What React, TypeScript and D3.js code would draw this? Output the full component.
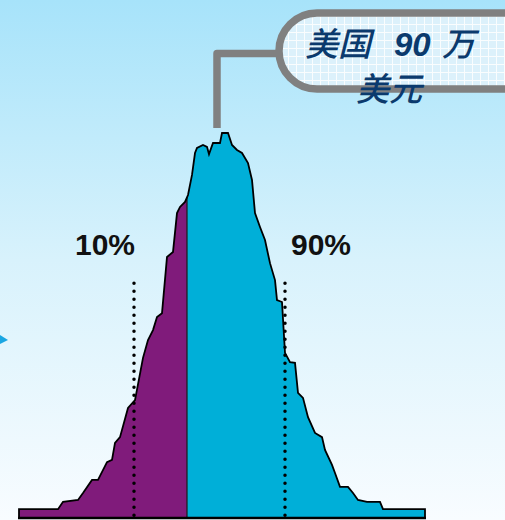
import React from "react";
import * as d3 from "d3";

// Distribution outline (x in 万美元, density in relative units)
const values = [40.5, 50.25, 51.5, 55.25, 56.5, 58.75, 60.25, 62.5, 63.75, 64.5, 65.75, 67.75, 69.5, 71.5, 72.75, 74, 75, 76.25, 77.5, 79, 80, 80.75, 82, 82.75, 83.75, 84.5, 85, 86.5, 87.5, 88, 89, 90.75, 91.25, 92.75, 93.75, 95, 96.25, 97.75, 98.75, 99.5, 100.75, 102, 103.25, 104.5, 105, 106.25, 107, 108.25, 109.5, 110.25, 111.5, 112.75, 114.5, 116.25, 117, 118.75, 119.5, 120.75, 122.75, 124, 125.25, 127.5, 130.75, 131.5, 142];
const density = [2.3, 2.3, 4.2, 4.7, 6.5, 9.9, 9.9, 14.5, 15.1, 19.5, 21.0, 28.6, 30.6, 41.6, 46.2, 48.8, 52.2, 53.2, 67.8, 69.1, 79.2, 80.8, 82.1, 83.9, 89.1, 94.8, 96.1, 96.9, 96.4, 94.5, 97.4, 97.4, 100, 100, 96.9, 95.6, 94.8, 92.2, 87.8, 79.2, 75.6, 72.2, 66.2, 61.8, 56.6, 56.1, 42.9, 40.5, 40.3, 32.5, 31.2, 26.2, 22.1, 21.0, 17.7, 13.8, 11.7, 8.1, 8.1, 6.5, 4.7, 4.2, 4.2, 2.3, 2.3];

const percentileLabels = ["10%", "90%"];
const percentileValues = [69.25, 107];
const splitValue = 82.5;
const calloutValue = 90;
const calloutLines = ["美国", "90", "万", "美元"];

const W = 505;
const H = 520;

export default function App() {
  const x = d3.scaleLinear().domain([90, 140]).range([217, 417]);
  const y = d3.scaleLinear().domain([0, 100]).range([518, 133]);
  const pts: [number, number][] = values.map((v, i) => [v, density[i]]);
  const first = pts[0];
  const last = pts[pts.length - 1];
  const areaGen = d3
    .area<[number, number]>()
    .x((d) => x(d[0]))
    .y0(y(0))
    .y1((d) => y(d[1]));
  const lineGen = d3
    .line<[number, number]>()
    .x((d) => x(d[0]))
    .y((d) => y(d[1]));
  const outline: [number, number][] = [[first[0], 0], ...pts, [last[0], 0]];
  const areaPath = areaGen(pts) || "";
  const linePath = lineGen(outline) || "";

  const idx = values.findIndex((v) => v >= splitValue);
  const t = (splitValue - values[idx - 1]) / (values[idx] - values[idx - 1]);
  const splitDensity = density[idx - 1] + t * (density[idx] - density[idx - 1]);

  const cx = x(calloutValue);
  const dotTop = y(61);

  return (
    <svg
      width={W}
      height={H}
      style={{ position: "fixed", left: 0, top: 0, display: "block" }}
    >
      <defs>
        <linearGradient id="bg" x1="0" y1="0" x2="0" y2="1">
          <stop offset="0" stopColor="#a7e3fa" />
          <stop offset="0.5" stopColor="#d8f2fc" />
          <stop offset="1" stopColor="#f8fcff" />
        </linearGradient>
        <pattern id="grid" width="8" height="8" patternUnits="userSpaceOnUse">
          <rect width="8" height="8" fill="#dcf1fb" />
          <path d="M0 0.5H8M0.5 0V8" stroke="#ffffff" strokeWidth="1" opacity="0.85" />
        </pattern>
        <clipPath id="leftClip">
          <rect x={0} y={0} width={x(splitValue)} height={H} />
        </clipPath>
      </defs>
      <rect width={W} height={H} fill="url(#bg)" />

      <path d="M0 335 L8 340 L0 344 Z" fill="#1aa6e2" />

      <path d={areaPath} fill="#00afd8" />
      <path d={areaPath} fill="#801b7b" clipPath="url(#leftClip)" />
      <line
        x1={x(splitValue)}
        x2={x(splitValue)}
        y1={y(0)}
        y2={y(splitDensity)}
        stroke="#1a1a1a"
        strokeWidth={1.2}
      />
      <path d={linePath} fill="none" stroke="#000" strokeWidth={1.8} strokeLinejoin="miter" />
      <line x1={x(first[0]) - 1} x2={x(last[0]) + 1} y1={y(0)} y2={y(0)} stroke="#000" strokeWidth={2.5} />

      {percentileValues.map((v, i) => (
        <line
          key={i}
          x1={x(v)}
          x2={x(v)}
          y1={dotTop}
          y2={y(0)}
          stroke="#000"
          strokeWidth={3.5}
          strokeLinecap="round"
          strokeDasharray="0 8"
        />
      ))}
      {percentileLabels.map((l, i) => (
        <text
          key={l}
          x={i === 0 ? 105 : 321}
          y={255}
          textAnchor="middle"
          fontFamily="'Liberation Sans', Arial, sans-serif"
          fontWeight="bold"
          fontSize={30}
          fill="#111"
        >
          {l}
        </text>
      ))}

      <path
        d={`M${cx} 128 V53.5 H282`}
        fill="none"
        stroke="#808080"
        strokeWidth={7.5}
        strokeLinejoin="round"
      />
      <rect x={279} y={13} width={280} height={76} rx={38} ry={38} fill="url(#grid)" stroke="#808080" strokeWidth={7.5} />
      <g fill="#0b3a6d" fontStyle="italic">
        <text x={305} y={56} fontSize={33} fontWeight={500} fontFamily="'Noto Sans CJK SC', sans-serif">
          {calloutLines[0]}
        </text>
        <text x={394} y={56} fontSize={33} fontWeight="bold" fontFamily="'Liberation Sans', Arial, sans-serif">
          {calloutLines[1]}
        </text>
        <text x={442} y={56} fontSize={33} fontWeight={500} fontFamily="'Noto Sans CJK SC', sans-serif">
          {calloutLines[2]}
        </text>
        <text x={356} y={101} fontSize={33} fontWeight={500} fontFamily="'Noto Sans CJK SC', sans-serif">
          {calloutLines[3]}
        </text>
      </g>
    </svg>
  );
}
